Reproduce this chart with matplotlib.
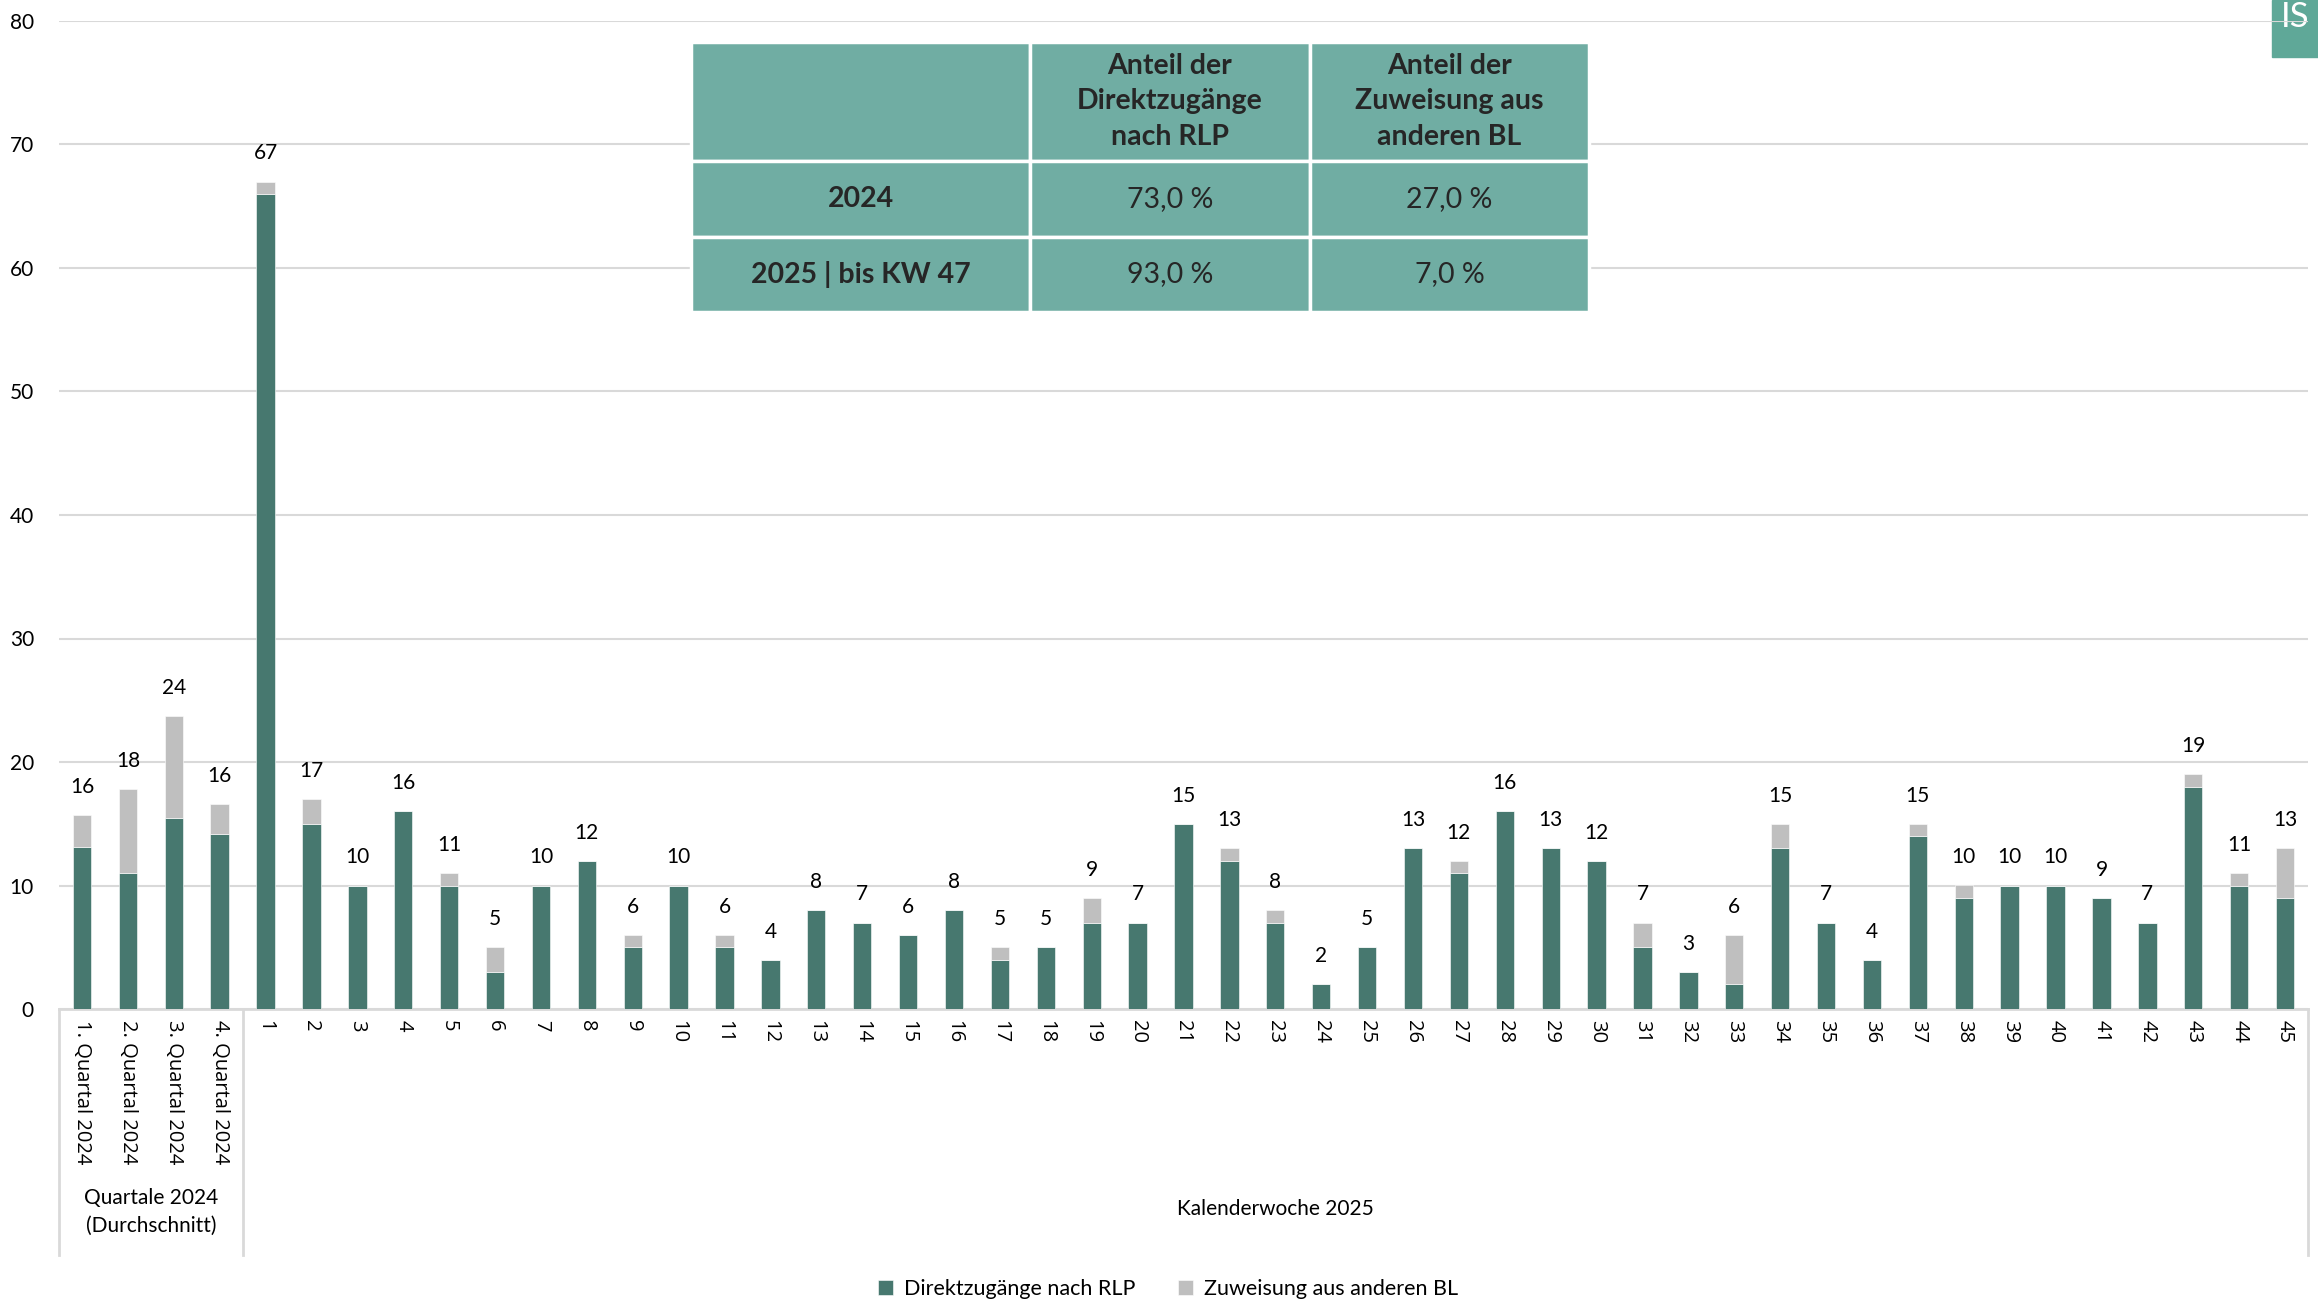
import numpy as np
import matplotlib.pyplot as plt
from matplotlib.patches import Rectangle

plt.rcParams['font.family'] = ['Lato', 'DejaVu Sans']

quarters = ['1. Quartal 2024', '2. Quartal 2024', '3. Quartal 2024', '4. Quartal 2024']
weeks = [str(i) for i in range(1, 46)]
categories = quarters + weeks

direkt = [13.1, 11.0, 15.5, 14.2,
          66, 15, 10, 16, 10, 3, 10, 12, 5, 10, 5, 4, 8, 7, 6, 8, 4, 5, 7, 7, 15,
          12, 7, 2, 5, 13, 11, 16, 13, 12, 5, 3, 2, 13, 7, 4, 14, 9, 10, 10, 9, 7,
          18, 10, 9]
zuweisung = [2.6, 6.8, 8.2, 2.4,
             1, 2, 0, 0, 1, 2, 0, 0, 1, 0, 1, 0, 0, 0, 0, 0, 1, 0, 2, 0, 0,
             1, 1, 0, 0, 0, 1, 0, 0, 0, 2, 0, 4, 2, 0, 0, 1, 1, 0, 0, 0, 0,
             1, 1, 4]
labels = [16, 18, 24, 16,
          67, 17, 10, 16, 11, 5, 10, 12, 6, 10, 6, 4, 8, 7, 6, 8, 5, 5, 9, 7, 15,
          13, 8, 2, 5, 13, 12, 16, 13, 12, 7, 3, 6, 15, 7, 4, 15, 10, 10, 10, 9, 7,
          19, 11, 13]

table_header = ['', 'Anteil der\nDirektzugänge\nnach RLP', 'Anteil der\nZuweisung aus\nanderen BL']
table_rows = [['2024', '73,0 %', '27,0 %'],
              ['2025 | bis KW 47', '93,0 %', '7,0 %']]

green = '#47786F'
grey = '#BFBFBF'
teal = '#70ADA3'
gridc = '#D9D9D9'

W, H = 2318, 1307
fig = plt.figure(figsize=(W / 100, H / 100), dpi=100)

# logo box top right
fig.add_artist(Rectangle((2272 / W, 1 - 57 / H), 46 / W, 57 / H, transform=fig.transFigure,
                         color='#5FA898', zorder=0))
fig.text(2281 / W, 1 - 1 / H, 'IS', color='white', fontsize=25,
         ha='left', va='top', zorder=1)

ax = fig.add_axes([59 / W, 1 - 1009 / H, (2308 - 59) / W, (1009 - 21) / H])
ax.set_zorder(2)
ax.patch.set_alpha(0)

x = np.arange(len(categories))
ax.bar(x, direkt, width=0.4, color=green, edgecolor='white', linewidth=0.4, zorder=3,
       label='Direktzugänge nach RLP')
ax.bar(x, zuweisung, width=0.4, bottom=direkt, color=grey, edgecolor='white', linewidth=0.4,
       zorder=3, label='Zuweisung aus anderen BL')

tops = np.array(direkt) + np.array(zuweisung)
for xi, t, lab in zip(x, tops, labels):
    ax.annotate(str(lab), (xi, t), xytext=(0, 13), textcoords='offset points',
                ha='center', va='bottom', fontsize=15, color='#000000')

ax.set_ylim(0, 80)
ax.set_xlim(-0.5, len(categories) - 0.5)
ax.set_yticks(range(0, 81, 10))
ax.yaxis.grid(True, color=gridc, linewidth=1.5, zorder=0)
ax.set_axisbelow(True)
for s in ['top', 'right', 'left']:
    ax.spines[s].set_visible(False)
ax.spines['bottom'].set_color(gridc)
ax.spines['bottom'].set_linewidth(2)
ax.tick_params(axis='y', length=0, pad=18, labelsize=15)
ax.tick_params(axis='x', length=0, pad=8)
ax.set_xticks(x)
ax.set_xticklabels(categories, rotation=-90, fontsize=14.5, family=['Open Sans', 'DejaVu Sans'],
                   va='top', ha='center')

# group separators below the axis
trans = ax.get_xaxis_transform()
depth = -246 / 988
for sx in [-0.5, 3.5, len(categories) - 0.5]:
    ax.plot([sx, sx], [0, depth], transform=trans, color=gridc, linewidth=2, clip_on=False)
ax.text(1.5, -203 / 988, 'Quartale 2024\n(Durchschnitt)', transform=trans, ha='center', va='center',
        fontsize=15, linespacing=1.45)
ax.text((4 + len(categories) - 1) / 2, -200 / 988, 'Kalenderwoche 2025', transform=trans,
        ha='center', va='center', fontsize=15)

fig.legend(loc='center', bbox_to_anchor=(0.504, 1 - 1289 / H), ncol=2, frameon=False,
           fontsize=15.5, handlelength=0.7, handleheight=0.7, columnspacing=2.0, handletextpad=0.5)

# summary table
tax = fig.add_axes([0, 0, 1, 1], zorder=5)
tax.set_xlim(0, W)
tax.set_ylim(H, 0)
tax.axis('off')
col_edges = [691, 1030, 1310, 1589]
row_edges = [42, 161, 237, 312]
rows = [table_header] + table_rows
for r in range(3):
    for c in range(3):
        x0, x1 = col_edges[c], col_edges[c + 1]
        y0, y1 = row_edges[r], row_edges[r + 1]
        tax.add_patch(Rectangle((x0, y0), x1 - x0, y1 - y0, facecolor=teal,
                                edgecolor='white', linewidth=2.5))
        bold = (r == 0 or c == 0)
        tax.text((x0 + x1) / 2, (y0 + y1) / 2, rows[r][c], ha='center', va='center',
                 fontsize=20.5, color='#262626', fontweight='bold' if bold else 'normal',
                 linespacing=1.45)

fig.savefig('out.png', dpi=100)
